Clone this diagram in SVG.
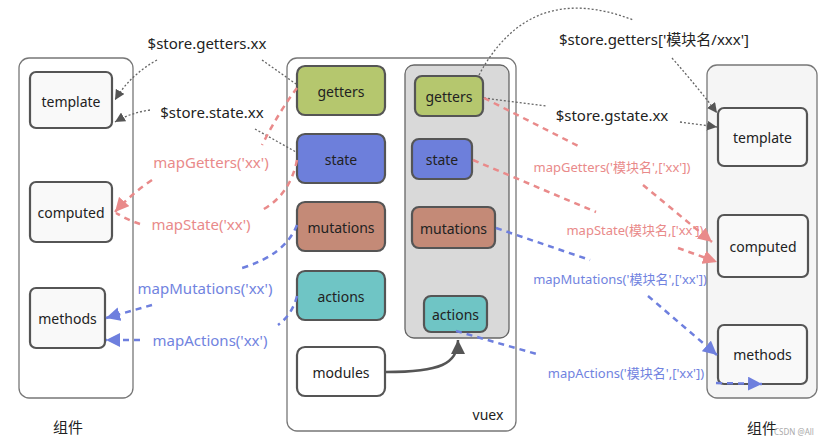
<svg xmlns="http://www.w3.org/2000/svg" width="834" height="444" viewBox="0 0 834 444">
<style>
text{font-family:"Noto Sans","Noto Sans CJK SC",sans-serif;text-anchor:middle;dominant-baseline:central}
.panel{fill:#fff;stroke:#777;stroke-width:1.3}
.box{fill:#f9f9f9;stroke:#555;stroke-width:2.2}
.bt{font-size:14px;fill:#222}
.lbl{font-size:15px;fill:#222}
.pk{fill:#e98a8a}
.bl{fill:#7183e0}
.gd{fill:none;stroke:#666;stroke-width:1.3;stroke-dasharray:2 2}
.pd{fill:none;stroke:#e98a8a;stroke-width:2.5;stroke-dasharray:6 5}
.bd{fill:none;stroke:#6e7fde;stroke-width:2.5;stroke-dasharray:6 5}
</style>
<defs>
<marker id="ag" markerUnits="userSpaceOnUse" markerWidth="12" markerHeight="10" refX="10" refY="5" orient="auto"><path d="M0,0 L10,5 L0,10 z" fill="#555"/></marker>
<marker id="ap" markerUnits="userSpaceOnUse" markerWidth="16" markerHeight="14" refX="14" refY="7" orient="auto"><path d="M0,0 L14,7 L0,14 z" fill="#e98a8a"/></marker>
<marker id="ab" markerUnits="userSpaceOnUse" markerWidth="16" markerHeight="14" refX="14" refY="7" orient="auto"><path d="M0,0 L14,7 L0,14 z" fill="#6e7fde"/></marker>
<marker id="ad" markerUnits="userSpaceOnUse" markerWidth="16" markerHeight="14" refX="14" refY="7" orient="auto"><path d="M0,0 L14,7 L0,14 z" fill="#555"/></marker>
</defs>

<g id="left-component">
<rect class="panel" x="19" y="58" width="114" height="340" rx="10"/>
<text x="68" y="427" class="lbl">组件</text>
</g>
<g id="left-template"><rect class="box" x="30" y="72" width="82" height="56" rx="6"/><text x="71" y="101" class="bt">template</text></g>
<g id="left-computed"><rect class="box" x="30" y="182" width="82" height="60" rx="6"/><text x="71" y="212" class="bt">computed</text></g>
<g id="left-methods"><rect class="box" x="30" y="288" width="75" height="60" rx="6"/><text x="67.5" y="318" class="bt">methods</text></g>

<g id="vuex">
<rect class="panel" x="287" y="58" width="229" height="373" rx="10"/>
<text x="488" y="414" class="bt">vuex</text>
</g>
<g id="getters"><rect class="box" x="297" y="66" width="88" height="49" rx="8" style="fill:#b5c76e"/><text x="341" y="91" class="bt">getters</text></g>
<g id="state"><rect class="box" x="297" y="134" width="88" height="49" rx="8" style="fill:#6d7fdb"/><text x="341" y="159" class="bt">state</text></g>
<g id="mutations"><rect class="box" x="297" y="202" width="88" height="49" rx="8" style="fill:#c48a77"/><text x="341" y="227" class="bt">mutations</text></g>
<g id="actions"><rect class="box" x="297" y="271" width="88" height="49" rx="8" style="fill:#6fc5c5"/><text x="341" y="296" class="bt">actions</text></g>
<g id="modules"><rect class="box" x="297" y="347" width="88" height="49" rx="8" style="fill:#fff"/><text x="341" y="372" class="bt">modules</text></g>

<g id="module-panel"><rect x="405" y="65" width="104" height="273" rx="9" fill="#d9d9d9" stroke="#666" stroke-width="1.3"/></g>
<g id="m-getters"><rect class="box" x="415" y="76" width="68" height="40" rx="7" style="fill:#b5c76e"/><text x="449" y="96" class="bt">getters</text></g>
<g id="m-state"><rect class="box" x="412" y="139" width="60" height="40" rx="7" style="fill:#6d7fdb"/><text x="442" y="159" class="bt">state</text></g>
<g id="m-mutations"><rect class="box" x="412" y="207" width="83" height="41" rx="7" style="fill:#c48a77"/><text x="453.5" y="228" class="bt">mutations</text></g>
<g id="m-actions"><rect class="box" x="424" y="296" width="63" height="36" rx="7" style="fill:#6fc5c5"/><text x="455.5" y="314" class="bt">actions</text></g>

<g id="right-component">
<rect x="707" y="65" width="110" height="333" rx="10" fill="#f5f5f5" stroke="#777" stroke-width="1.3"/>
<text x="762" y="428" class="lbl">组件</text>
</g>
<g id="right-template"><rect class="box" x="718" y="108" width="89" height="58" rx="6"/><text x="762.5" y="137" class="bt">template</text></g>
<g id="right-computed"><rect class="box" x="718" y="215" width="90" height="62" rx="6"/><text x="763" y="246" class="bt">computed</text></g>
<g id="right-methods"><rect class="box" x="718" y="325" width="89" height="59" rx="6"/><text x="762.5" y="354" class="bt">methods</text></g>

<g id="labels">
<text x="207" y="43" class="lbl">$store.getters.xx</text>
<text x="212" y="112" class="lbl">$store.state.xx</text>
<text x="211" y="162" class="lbl pk">mapGetters('xx')</text>
<text x="201" y="224" class="lbl pk">mapState('xx')</text>
<text x="205" y="288" class="lbl bl">mapMutations('xx')</text>
<text x="210" y="340" class="lbl bl">mapActions('xx')</text>
<text x="654" y="39" class="lbl">$store.getters['模块名/xxx']</text>
<text x="612" y="115" class="lbl">$store.gstate.xx</text>
<text x="612" y="167" style="font-size:13px" class="pk">mapGetters('模块名',['xx'])</text>
<text x="635" y="230" style="font-size:13px" class="pk">mapState(模块名,['xx'])</text>
<text x="620" y="279" style="font-size:13px" class="bl">mapMutations('模块名',['xx'])</text>
<text x="626" y="373" style="font-size:13px" class="bl">mapActions('模块名',['xx'])</text>
<text x="794" y="431" style="font-size:8px;fill:#aaa">CSDN @All</text>
</g>

<g id="connectors">
<path class="gd" d="M157,60 Q130,75 115,100" marker-end="url(#ag)"/>
<path class="gd" d="M262,60 L296,84"/>
<path class="gd" d="M150,110 Q130,113 115,122" marker-end="url(#ag)"/>
<path class="gd" d="M255,129 L296,152"/>
<path class="gd" d="M479,75 Q530,-20 633,20"/>
<path class="gd" d="M672,58 Q700,90 717,113" marker-end="url(#ag)"/>
<path class="gd" d="M484,98 L546,106"/>
<path class="gd" d="M680,122 L717,127" marker-end="url(#ag)"/>

<path class="pd" d="M297,88 Q280,110 262,145"/>
<path class="pd" d="M152,180 Q130,195 115,212" marker-end="url(#ap)"/>
<path class="pd" d="M297,160 Q290,195 262,210"/>
<path class="pd" d="M140,224 Q128,220 116,213"/>
<path class="pd" d="M484,98 L580,147"/>
<path class="pd" d="M643,185 L712,242" marker-end="url(#ap)"/>
<path class="pd" d="M473,160 L596,212"/>
<path class="pd" d="M678,248 L717,262" marker-end="url(#ap)"/>

<path class="bd" d="M297,225 Q285,255 242,268"/>
<path class="bd" d="M152,305 L106,318" marker-end="url(#ab)"/>
<path class="bd" d="M297,296 Q292,315 278,325"/>
<path class="bd" d="M140,340 L106,340" marker-end="url(#ab)"/>
<path class="bd" d="M496,228 L590,260"/>
<path class="bd" d="M648,296 L717,355" marker-end="url(#ab)"/>
<path class="bd" d="M456,331 L540,355"/>
<path class="bd" d="M716,383 L762,384" marker-end="url(#ab)"/>

<path d="M386,372 C440,372 458,364 458,340" fill="none" stroke="#555" stroke-width="2.5" marker-end="url(#ad)"/>
</g>
</svg>
